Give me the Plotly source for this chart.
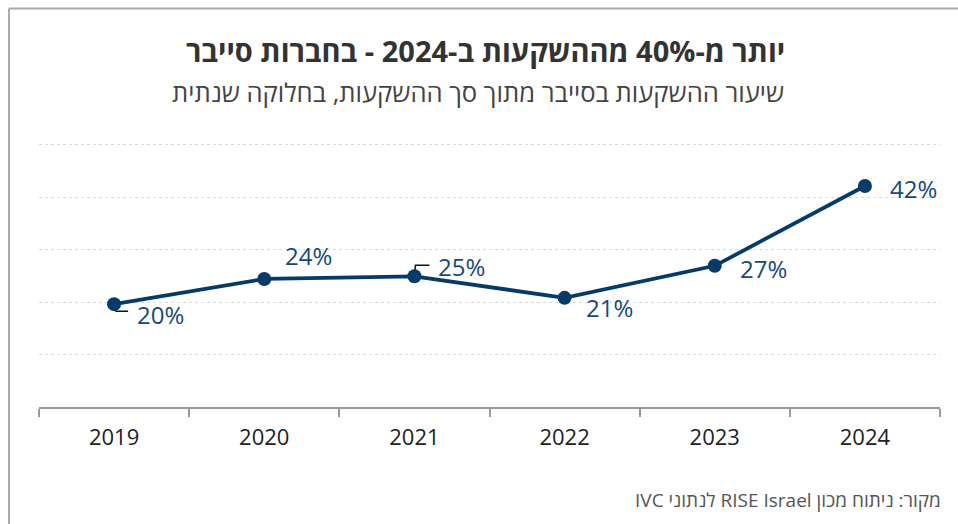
import plotly.graph_objects as go

# ---- data ----
years = ["2019", "2020", "2021", "2022", "2023", "2024"]
share = [19.6, 24.4, 24.9, 20.8, 26.9, 42.1]
labels = ["20%", "24%", "25%", "21%", "27%", "42%"]

title_text = "יותר מ-40% מההשקעות ב-2024 - בחברות סייבר"
subtitle_text = "שיעור ההשקעות בסייבר מתוך סך ההשקעות, בחלוקה שנתית"
source_text = "מקור: ניתוח מכון RISE Israel לנתוני IVC"

# ---- styling ----
RLE, PDF = "\u202B", "\u202C"
FONT = "Open Sans, Liberation Sans, DejaVu Sans, sans-serif"
LINE_COLOR = "#053b68"
LABEL_COLOR = "#154a7c"

# label offsets in pixels (xshift, yshift)
label_offsets = [(21, -10), (19, 23), (22, 10), (19, -10), (23, -3), (23, -2)]
# which labels have a small leader line, and its path (pixels relative to point)
leaders = {0: "M0,0 L2,-7 L14,-7", 2: "M0,0 L1,11 L15,11"}

fig = go.Figure()
fig.add_trace(go.Scatter(
    x=years, y=share, mode="lines+markers",
    line=dict(color=LINE_COLOR, width=3.8),
    marker=dict(size=14, color=LINE_COLOR),
    hoverinfo="skip", showlegend=False,
))

for i, (v, lab) in enumerate(zip(share, labels)):
    dx, dy = label_offsets[i]
    fig.add_annotation(
        x=i, y=v, xref="x", yref="y", text=lab, showarrow=False,
        xanchor="left", yanchor="middle",
        xshift=dx, yshift=dy, font=dict(family=FONT, size=24, color=LABEL_COLOR),
    )
    if i in leaders:
        fig.add_shape(
            type="path", xref="x", yref="y", xsizemode="pixel", ysizemode="pixel",
            xanchor=i, yanchor=v, path=leaders[i],
            line=dict(color="#111111", width=1.5), layer="below",
        )

# titles and source
fig.add_annotation(
    xref="paper", yref="paper", x=0.830, y=1.35, xanchor="right", yanchor="middle",
    text="<b>" + RLE + title_text + PDF + "</b>", showarrow=False,
    font=dict(family=FONT, size=29, color="#333333"),
)
fig.add_annotation(
    xref="paper", yref="paper", x=0.829, y=1.19, xanchor="right", yanchor="middle",
    text=RLE + subtitle_text + PDF, showarrow=False,
    font=dict(family=FONT, size=25.6, color="#444444"),
)
fig.add_annotation(
    xref="paper", yref="paper", x=1.0033, y=-0.352, xanchor="right", yanchor="middle",
    text=RLE + source_text + PDF, showarrow=False,
    font=dict(family=FONT, size=19, color="#555555"),
)

# frame lines (left and top)
fig.add_shape(type="line", xref="paper", yref="paper", x0=-0.0333, x1=-0.0333,
              y0=1.5095, y1=-0.6, line=dict(color="#aaaaaa", width=2))
fig.add_shape(type="line", xref="paper", yref="paper", x0=-0.0333, x1=1.1,
              y0=1.5095, y1=1.5095, line=dict(color="#aaaaaa", width=2))

fig.update_layout(
    width=958, height=524,
    margin=dict(l=39, r=18, t=143, b=117),
    paper_bgcolor="white", plot_bgcolor="white",
    font=dict(family=FONT),
    xaxis=dict(
        type="category", range=[-0.5, 5.5], tickson="boundaries",
        ticks="outside", ticklen=8, tickcolor="#999999", tickwidth=1.5,
        showline=True, linecolor="#999999", linewidth=1.5,
        showgrid=False, zeroline=False,
        tickfont=dict(family=FONT, size=22, color="#222222"),
        ticklabelstandoff=10, fixedrange=True,
    ),
    yaxis=dict(
        range=[0, 50.3], tickvals=[10, 20, 30, 40, 50], showticklabels=False, ticks="",
        showgrid=True, gridcolor="#d9d9d9", griddash="dot", gridwidth=1,
        zeroline=False, showline=False, fixedrange=True,
    ),
)

fig.write_html("out.html")
